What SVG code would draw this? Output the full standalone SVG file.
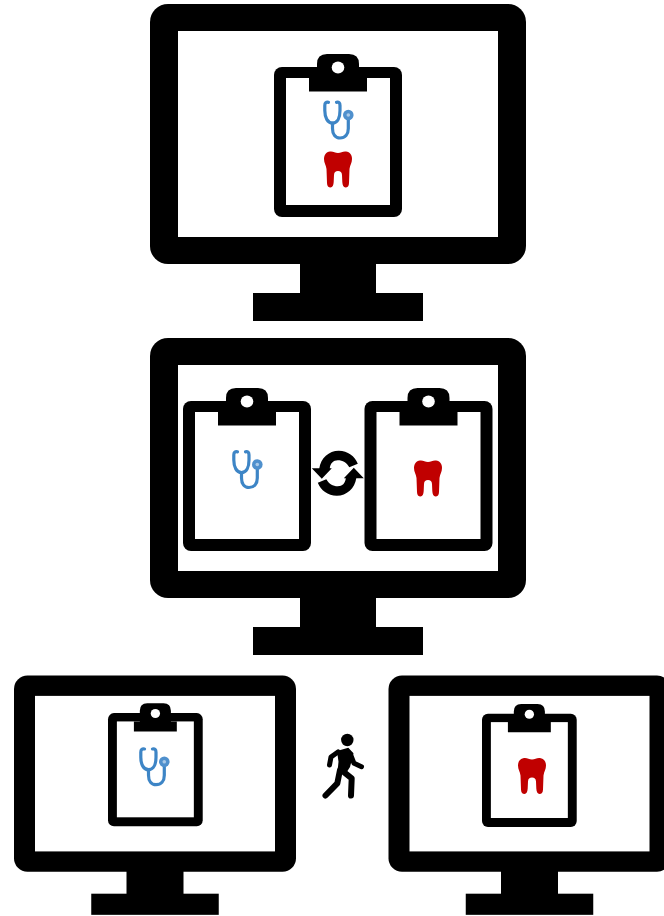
<svg xmlns="http://www.w3.org/2000/svg" width="664" height="916" viewBox="0 0 664 916">
  <style>
    .k { fill: #000; }
    .w { fill: #fff; }
    .steth { fill: none; stroke: #3d85c6; stroke-width: 3.2; stroke-linecap: round; stroke-linejoin: round; }
    .tooth { fill: #c00000; }
    .limb { fill: none; stroke: #000; stroke-linecap: round; stroke-linejoin: round; }
  </style>
  <defs>
    <g id="monitor">
      <rect class="k" x="0" y="0" width="376" height="260" rx="18"/>
      <rect class="w" x="28" y="27" width="320" height="206"/>
      <rect class="k" x="150" y="258" width="76" height="32"/>
      <rect class="k" x="103" y="289" width="170" height="28"/>
    </g>
    <g id="clipboard">
      <rect class="k" x="0" y="13" width="128" height="150" rx="8"/>
      <rect class="w" x="12" y="24" width="104" height="127"/>
      <path class="k" d="M35 37.500 V24 H43 V10 Q43 0 53 0 H75 Q85 0 85 10 V24 H93 V37.500 Z"/>
      <ellipse class="w" cx="64" cy="13.500" rx="6.300" ry="6"/>
    </g>
    <g id="stethoscope">
      <path class="steth" d="M5.500 1.800 Q1.800 1.200 1.800 5 V10 C1.800 17 4.500 22.500 9.500 22.500 C14.500 22.500 17 17 17 10 V5 Q17 1.200 13.500 1.800"/>
      <path class="steth" d="M9.500 22.500 V28 C9.500 34 12.500 37.500 17 37.500 C22 37.500 25.300 34 25.300 28 V18"/>
      <circle cx="25.300" cy="14.500" r="5.300" fill="#4f90cd"/>
      <circle cx="25.300" cy="14.500" r="1.800" fill="#a9c9e8"/>
    </g>
    <path id="tooth" class="tooth" d="M6 0.500 C9 0 11 2 14 2 C17 2 19 0 22 0.500 C26 1 28 4 28 8 C28 12 26 14 25.500 18 L25 32 C25 35 23.500 36.500 21.500 36.500 C19.500 36.500 18.500 34 18.300 31 L18 24 C17.800 21 16.500 20 14 20 C11.500 20 10.200 21 10 24 L9.700 31 C9.500 34 8.500 36.500 6.500 36.500 C4.500 36.500 3 35 3 32 L2.500 18 C2 14 0 12 0 8 C0 4 2 1 6 0.500Z"/>
  </defs>
  <rect class="w" x="0" y="0" width="664" height="916"/>

  <g id="monitor-top">
    <use href="#monitor" transform="translate(150 4)"/>
    <use href="#clipboard" transform="translate(274 54)"/>
    <use href="#stethoscope" transform="translate(323 100.500)"/>
    <use href="#tooth" transform="translate(324 151)"/>
  </g>

  <g id="monitor-middle">
    <use href="#monitor" transform="translate(150 338)"/>
    <use href="#clipboard" transform="translate(183 388)"/>
    <use href="#clipboard" transform="translate(364.500 388)"/>
    <use href="#stethoscope" transform="translate(232 450)"/>
    <use href="#tooth" transform="translate(414 460)"/>
  </g>

  <g id="sync" transform="translate(337.800 473.300)">
    <path id="sync-arrow" class="k" d="M-26 -5 L-18.500 -5 C-17 -15 -9 -22.500 1 -22.500 C10 -22.500 17 -17 20 -9.500 L11.500 -6 C9 -10.500 5 -13 0 -13 C-4.500 -13 -7.500 -10 -8 -5 L-6 -5 L-16 5.500 Z"/>
    <use href="#sync-arrow" transform="rotate(180)"/>
  </g>

  <g id="monitor-left">
    <use href="#monitor" transform="translate(14 675.500) scale(0.75 0.755)"/>
    <use href="#clipboard" transform="translate(108 703.300) scale(0.74 0.755)"/>
    <use href="#stethoscope" transform="translate(139 747.200)"/>
  </g>

  <g id="walker">
    <circle class="k" cx="347.300" cy="740" r="6.200"/>
    <path class="k" d="M337 751 L348.300 747.800 L353.500 753.300 L350 767 L345.500 774 L337.500 772 L338.500 761.700 Z"/>
    <path class="limb" stroke-width="5" d="M338 752 L331 757 L329.500 765"/>
    <path class="limb" stroke-width="5" d="M350.700 755 L354 763.300 L361.500 766.700"/>
    <path class="limb" stroke-width="6" d="M340 770 L337.300 783.300 L325.500 795.500"/>
    <path class="limb" stroke-width="6" d="M343.300 771.700 L351.700 778.300 L351 795.500"/>
  </g>

  <g id="monitor-right">
    <use href="#monitor" transform="translate(388.500 675.500) scale(0.75 0.755)"/>
    <use href="#clipboard" transform="translate(482 704) scale(0.74 0.755)"/>
    <use href="#tooth" transform="translate(518 757.500)"/>
  </g>
</svg>
